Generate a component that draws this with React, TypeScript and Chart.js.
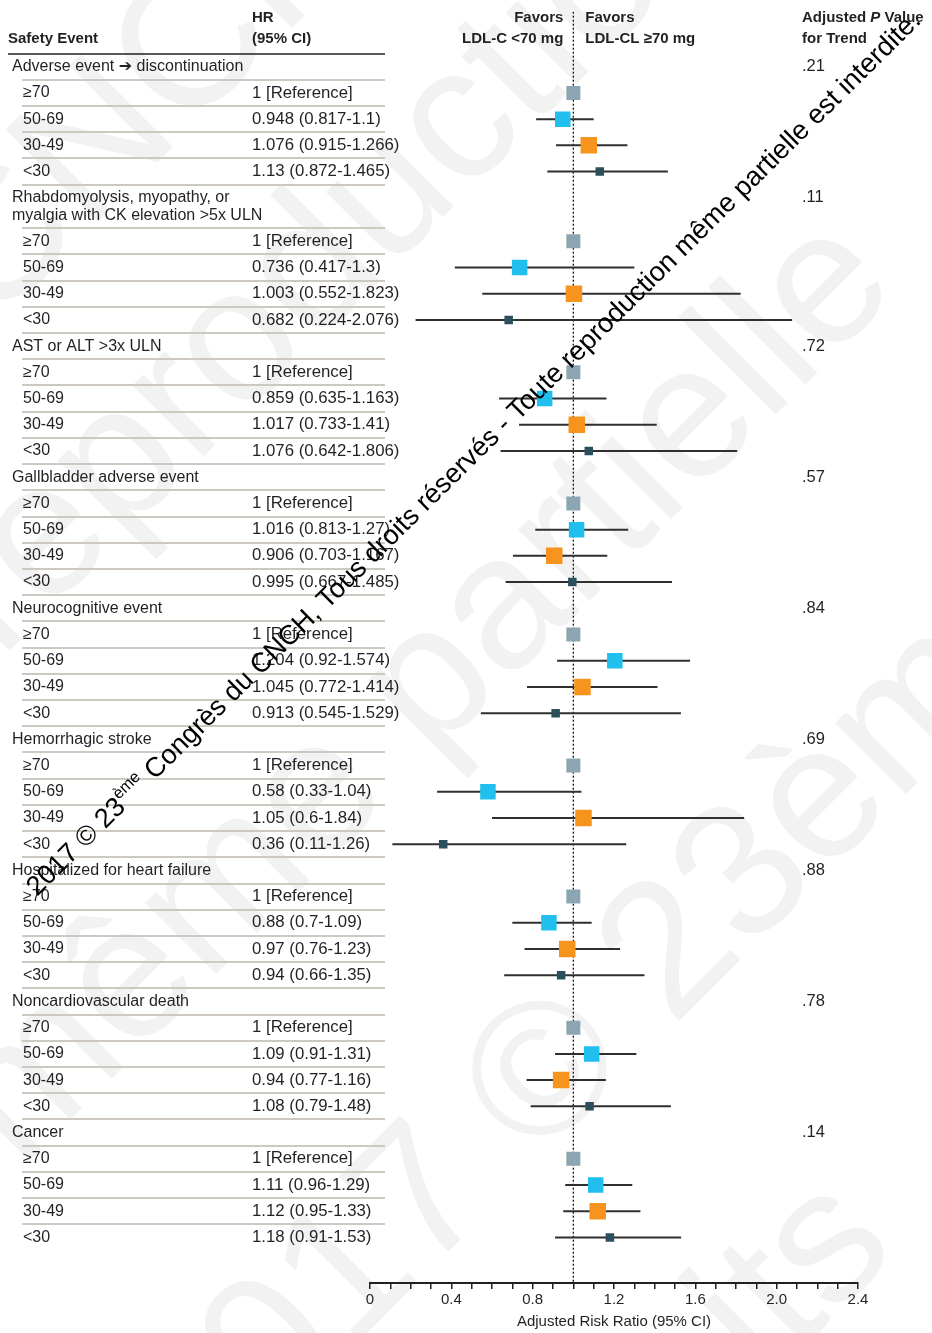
import { useEffect, useRef } from 'react';
import { Chart, registerables } from 'chart.js';

Chart.register(...registerables);

// LDL-C bands, reference band first
const ageBands = ['≥70', '50-69', '30-49', '<30'];

const eventNames: string[][] = [
  ['Adverse event ➔ discontinuation'],
  ['Rhabdomyolysis, myopathy, or', 'myalgia with CK elevation >5x ULN'],
  ['AST or ALT >3x ULN'],
  ['Gallbladder adverse event'],
  ['Neurocognitive event'],
  ['Hemorrhagic stroke'],
  ['Hospitalized for heart failure'],
  ['Noncardiovascular death'],
  ['Cancer'],
];

const pTrend = ['.21', '.11', '.72', '.57', '.84', '.69', '.88', '.78', '.14'];

const referenceHR = 1;

// Adjusted hazard ratios and 95% CI, one entry per safety event
const hr50to69 = [0.948, 0.736, 0.859, 1.016, 1.204, 0.58, 0.88, 1.09, 1.11];
const lo50to69 = [0.817, 0.417, 0.635, 0.813, 0.92, 0.33, 0.7, 0.91, 0.96];
const hi50to69 = [1.1, 1.3, 1.163, 1.27, 1.574, 1.04, 1.09, 1.31, 1.29];

const hr30to49 = [1.076, 1.003, 1.017, 0.906, 1.045, 1.05, 0.97, 0.94, 1.12];
const lo30to49 = [0.915, 0.552, 0.733, 0.703, 0.772, 0.6, 0.76, 0.77, 0.95];
const hi30to49 = [1.266, 1.823, 1.41, 1.167, 1.414, 1.84, 1.23, 1.16, 1.33];

const hrUnder30 = [1.13, 0.682, 1.076, 0.995, 0.913, 0.36, 0.94, 1.08, 1.18];
const loUnder30 = [0.872, 0.224, 0.642, 0.667, 0.545, 0.11, 0.66, 0.79, 0.91];
const hiUnder30 = [1.465, 2.076, 1.806, 1.485, 1.529, 1.26, 1.35, 1.48, 1.53];

const xTickLabels = ['0', '0.4', '0.8', '1.2', '1.6', '2.0', '2.4'];

// ---- styling ----
const FONT = '"Liberation Sans", Arial, "DejaVu Sans", sans-serif';
const TEXT = '#231f24';
const bandColors = ['#8ba5b2', '#20bfee', '#f7941e', '#2b4f5d'];
const bandMarkerSide = [14, 15.5, 16.5, 8.5];

type Series = { hr: number[]; lo: number[] | null; hi: number[] | null };
const bandSeries: Series[] = [
  { hr: eventNames.map(() => referenceHR), lo: null, hi: null },
  { hr: hr50to69, lo: lo50to69, hi: hi50to69 },
  { hr: hr30to49, lo: lo30to49, hi: hi30to49 },
  { hr: hrUnder30, lo: loUnder30, hi: hiUnder30 },
];

// Row layout in slot units: each event gets a header slot, then one slot per band.
type Row = { kind: 'header' | 'band'; y: number; event: number; band: number };
const EXTRA_LINE = 0.66;
const rows: Row[] = [];
{
  let slot = 0;
  eventNames.forEach((lines, e) => {
    rows.push({ kind: 'header', y: slot, event: e, band: -1 });
    slot += 1 + (lines.length - 1) * EXTRA_LINE;
    ageBands.forEach((_, b) => {
      rows.push({ kind: 'band', y: slot, event: e, band: b });
      slot += 1;
    });
  });
}

const Y_TOP = -2.1;
const Y_BOTTOM = 46.4;

const fmtHR = (e: number, b: number) => {
  const s = bandSeries[b];
  if (!s.lo || !s.hi) return `${s.hr[e]} [Reference]`;
  return `${s.hr[e]} (${s.lo[e]}-${s.hi[e]})`;
};

const tablePlugin = {
  id: 'forestTable',
  beforeDraw(chart: any) {
    const { ctx, width, height } = chart;
    ctx.save();
    ctx.fillStyle = '#ffffff';
    ctx.fillRect(0, 0, width, height);
    // faint large background notice
    ctx.fillStyle = '#f2f2f2';
    ctx.font = `190px ${FONT}`;
    ctx.textBaseline = 'alphabetic';
    const big: [string, number, number][] = [
      ['CNCH, Tous droits', -10, 330],
      ['reproduction', 0, 660],
      ['même partielle', 20, 1170],
      ['2017 © 23ème', 200, 1500],
      ['Tous droits', 250, 1900],
    ];
    big.forEach(([t, x, y]) => {
      ctx.save();
      ctx.translate(x, y);
      ctx.rotate(-Math.PI / 4);
      ctx.fillText(t, 0, 0);
      ctx.restore();
    });
    ctx.restore();
  },
  afterDraw(chart: any) {
    const { ctx } = chart;
    const ys = chart.scales.y;
    const xs = chart.scales.x;
    const py = (v: number) => ys.getPixelForValue(v);
    ctx.save();

    // column headers
    ctx.fillStyle = TEXT;
    ctx.textBaseline = 'middle';
    ctx.font = `bold 15px ${FONT}`;
    ctx.textAlign = 'left';
    ctx.fillText('Safety Event', 8, 39);
    ctx.fillText('HR', 252, 18);
    ctx.fillText('(95% CI)', 252, 39);
    const x1 = xs.getPixelForValue(referenceHR);
    ctx.textAlign = 'right';
    ctx.fillText('Favors', x1 - 10, 18);
    ctx.fillText('LDL-C <70 mg', x1 - 10, 39);
    ctx.textAlign = 'left';
    ctx.fillText('Favors', x1 + 12, 18);
    ctx.fillText('LDL-CL ≥70 mg', x1 + 12, 39);
    let px = 802;
    ctx.fillText('Adjusted ', px, 18);
    px += ctx.measureText('Adjusted ').width;
    ctx.font = `italic bold 15px ${FONT}`;
    ctx.fillText('P', px, 18);
    px += ctx.measureText('P').width;
    ctx.font = `bold 15px ${FONT}`;
    ctx.fillText(' Value', px, 18);
    ctx.fillText('for Trend', 802, 39);

    // rule lines
    rows.forEach((r, i) => {
      const y = Math.round(py(r.y - 0.5));
      ctx.beginPath();
      if (i === 0) {
        ctx.strokeStyle = '#231f20';
        ctx.lineWidth = 1.5;
        ctx.moveTo(8, y);
      } else {
        ctx.strokeStyle = '#cdc9c1';
        ctx.lineWidth = 2;
        ctx.moveTo(22, y);
      }
      ctx.lineTo(385, y);
      ctx.stroke();
    });

    // table body
    ctx.fillStyle = TEXT;
    ctx.textAlign = 'left';
    rows.forEach((r) => {
      const y = py(r.y);
      if (r.kind === 'header') {
        ctx.font = `16px ${FONT}`;
        eventNames[r.event].forEach((line, k) => {
          ctx.fillText(line, 12, py(r.y + k * 0.68));
        });
        ctx.font = `16.5px ${FONT}`;
        ctx.fillText(pTrend[r.event], 802, y);
      } else {
        ctx.font = `16px ${FONT}`;
        ctx.fillText(ageBands[r.band], 23, y);
        ctx.font = `16.8px ${FONT}`;
        ctx.fillText(fmtHR(r.event, r.band), 252, y);
      }
    });

    // copyright notice across the page
    const parts = [
      { t: '2017 © 23', sup: false },
      { t: 'ème', sup: true },
      { t: ' Congrès du CNCH, Tous droits réservés - Toute reproduction même partielle est interdite.', sup: false },
    ];
    const base = 25;
    const measure = (size: number) => {
      let w = 0;
      parts.forEach((p) => {
        ctx.font = `${p.sup ? size * 0.6 : size}px ${FONT}`;
        w += ctx.measureText(p.t).width;
      });
      return w;
    };
    const size = (base * 1245) / measure(base);
    ctx.save();
    ctx.translate(37, 897);
    ctx.rotate(Math.atan2(-877, 887));
    ctx.fillStyle = '#000';
    ctx.textAlign = 'left';
    ctx.textBaseline = 'alphabetic';
    let cx = 0;
    parts.forEach((p) => {
      ctx.font = `${p.sup ? size * 0.6 : size}px ${FONT}`;
      ctx.fillText(p.t, cx, p.sup ? -size * 0.42 : 0);
      cx += ctx.measureText(p.t).width;
    });
    ctx.restore();

    ctx.restore();
  },
};

export default function App() {
  const canvasRef = useRef<HTMLCanvasElement | null>(null);

  useEffect(() => {
    const canvas = canvasRef.current;
    if (!canvas) return;

    const datasets: any[] = [];

    // line of no effect
    datasets.push({
      data: [
        { x: referenceHR, y: Y_TOP },
        { x: referenceHR, y: Y_BOTTOM },
      ],
      showLine: true,
      borderColor: '#111',
      borderWidth: 1.3,
      borderDash: [2, 2],
      pointRadius: 0,
      order: 3,
    });

    // confidence intervals
    rows.forEach((r) => {
      if (r.kind !== 'band') return;
      const s = bandSeries[r.band];
      if (!s.lo || !s.hi) return;
      datasets.push({
        data: [
          { x: s.lo[r.event], y: r.y },
          { x: s.hi[r.event], y: r.y },
        ],
        showLine: true,
        borderColor: '#2f2f2f',
        borderWidth: 2,
        pointRadius: 0,
        order: 2,
      });
    });

    // point estimates
    ageBands.forEach((_, b) => {
      const s = bandSeries[b];
      datasets.push({
        data: rows
          .filter((r) => r.kind === 'band' && r.band === b)
          .map((r) => ({ x: s.hr[r.event], y: r.y })),
        pointStyle: 'rect',
        pointRadius: bandMarkerSide[b] / Math.SQRT2,
        pointHoverRadius: bandMarkerSide[b] / Math.SQRT2,
        backgroundColor: bandColors[b],
        borderColor: bandColors[b],
        borderWidth: 0,
        order: 1,
      });
    });

    const chart = new Chart(canvas, {
      type: 'scatter',
      data: { datasets },
      options: {
        responsive: false,
        maintainAspectRatio: false,
        animation: false,
        events: [],
        layout: { padding: { left: 370, right: 74, top: 8, bottom: 2 } },
        plugins: {
          legend: { display: false },
          tooltip: { enabled: false },
        },
        scales: {
          x: {
            type: 'linear',
            position: 'bottom',
            min: 0,
            max: 2.4,
            ticks: {
              stepSize: 0.1,
              autoSkip: false,
              maxRotation: 0,
              padding: 2,
              color: TEXT,
              font: { family: FONT, size: 15 },
              callback: (_v: any, i: number) => (i % 4 === 0 ? xTickLabels[i / 4] : ''),
            },
            grid: {
              display: true,
              drawOnChartArea: false,
              drawTicks: true,
              tickLength: 6,
              color: '#231f20',
              lineWidth: 1.5,
            },
            border: { display: true, color: '#231f20', width: 2 },
            title: {
              display: true,
              text: 'Adjusted Risk Ratio (95% CI)',
              color: TEXT,
              font: { family: FONT, size: 15 },
              padding: { top: 2, bottom: 0 },
            },
          },
          y: {
            type: 'linear',
            display: false,
            reverse: true,
            min: Y_TOP,
            max: Y_BOTTOM,
          },
        },
      },
      plugins: [tablePlugin],
    } as any);

    return () => chart.destroy();
  }, []);

  return (
    <canvas
      ref={canvasRef}
      width={932}
      height={1333}
      style={{ position: 'absolute', left: 0, top: 0, width: 932, height: 1333 }}
    />
  );
}
